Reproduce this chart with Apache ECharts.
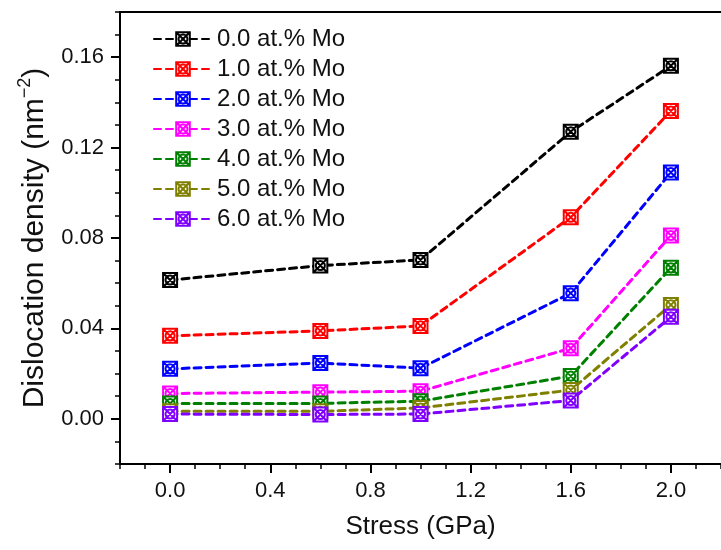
<!DOCTYPE html>
<html>
<head>
<meta charset="utf-8">
<script src="https://cdn.jsdelivr.net/npm/echarts@6/dist/echarts.min.js"></script>
<style>
html,body{margin:0;padding:0;background:#fff;}
#chart{width:721px;height:550px;}
</style>
</head>
<body>
<div id="chart"></div>
<script>
// Stress (GPa)
const stress = [0.0, 0.6, 1.0, 1.6, 2.0];
const seriesNames = ['0.0 at.% Mo', '1.0 at.% Mo', '2.0 at.% Mo', '3.0 at.% Mo', '4.0 at.% Mo', '5.0 at.% Mo', '6.0 at.% Mo'];
// Dislocation density (nm^-2)
const mo0 = [0.0614, 0.0678, 0.0703, 0.1270, 0.1562];
const mo1 = [0.0367, 0.0389, 0.0411, 0.0892, 0.1362];
const mo2 = [0.0221, 0.0247, 0.0224, 0.0556, 0.1090];
const mo3 = [0.0112, 0.0118, 0.0122, 0.0312, 0.0811];
const mo4 = [0.0068, 0.0068, 0.0078, 0.0189, 0.0668];
const mo5 = [0.0033, 0.0033, 0.0048, 0.0127, 0.0504];
const mo6 = [0.0021, 0.0019, 0.0021, 0.0081, 0.0451];
const xTickLabels = [0.0, 0.4, 0.8, 1.2, 1.6, 2.0];
const yTickLabels = [0.00, 0.04, 0.08, 0.12, 0.16];
const colors = ['#000000', '#ff0000', '#0000ff', '#ff00ff', '#008000', '#808000', '#8000ff'];

const allData = [mo0, mo1, mo2, mo3, mo4, mo5, mo6];
const FONT = 'Liberation Sans, Arial, sans-serif';
const markerPath = 'path://M0,0H20V20H0ZM0,0L20,20M20,0L0,20M16.5,10A6.5,6.5,0,1,1,3.5,10A6.5,6.5,0,1,1,16.5,10Z';

const chart = echarts.init(document.getElementById('chart'), null, {renderer: 'canvas'});

const series = allData.map((d, i) => ({
  name: seriesNames[i],
  type: 'line',
  xAxisIndex: 0,
  yAxisIndex: 0,
  data: d.map((v, j) => [stress[j], v]),
  symbol: markerPath,
  symbolSize: 14,
  symbolKeepAspect: true,
  lineStyle: {color: colors[i], width: 3, type: [7, 5], cap: 'round'},
  itemStyle: {color: '#ffffff', borderColor: colors[i], borderWidth: 2},
  emphasis: {disabled: true},
  animation: false,
  z: 2 + i
}));

const xMin = -0.2, xMax = 2.2, yMin = -0.02, yMax = 0.18;

const option = {
  animation: false,
  textStyle: {fontFamily: FONT},
  grid: {left: 120, top: 12, right: 0, bottom: 86, containLabel: false},
  legend: {
    orient: 'vertical',
    left: 148,
    top: 22,
    itemWidth: 58,
    itemHeight: 17,
    itemGap: 6,
    textStyle: {fontFamily: FONT, fontSize: 24, color: '#111', lineHeight: 24},
    data: seriesNames
  },
  xAxis: [
    {
      type: 'value', min: xMin, max: xMax, position: 'bottom',
      name: 'Stress (GPa)', nameLocation: 'middle', nameGap: 50,
      nameTextStyle: {fontFamily: FONT, fontSize: 26, color: '#111'},
      axisLine: {show: true, onZero: false, lineStyle: {color: '#000', width: 2}},
      axisTick: {show: true, customValues: xTickLabels, length: 9, inside: false, lineStyle: {color: '#000', width: 2}},
      axisLabel: {show: true, customValues: xTickLabels, margin: 16, fontFamily: FONT, fontSize: 22, color: '#111', formatter: v => v.toFixed(1)},
      splitLine: {show: false}
    },
    {
      type: 'value', min: xMin, max: xMax, interval: 0.1, position: 'bottom',
      axisLine: {show: false, onZero: false},
      axisTick: {show: true, length: 5, lineStyle: {color: '#000', width: 1.5}},
      axisLabel: {show: false},
      splitLine: {show: false}
    },
    {
      type: 'value', min: xMin, max: xMax, position: 'top',
      axisLine: {show: true, onZero: false, lineStyle: {color: '#000', width: 2}},
      axisTick: {show: false}, axisLabel: {show: false}, splitLine: {show: false}
    }
  ],
  yAxis: [
    {
      type: 'value', min: yMin, max: yMax, position: 'left',
      name: '{a|Dislocation density (nm}{s|\u22122}{a|)}', nameLocation: 'middle', nameGap: 70, nameRotate: 90,
      nameTextStyle: {
        fontFamily: FONT, fontSize: 30, color: '#111',
        rich: {
          a: {fontFamily: FONT, fontSize: 30, color: '#111', lineHeight: 34, verticalAlign: 'bottom'},
          s: {fontFamily: FONT, fontSize: 18, color: '#111', lineHeight: 34, verticalAlign: 'top', padding: [0, 0, 15, 0]}
        }
      },
      axisLine: {show: true, onZero: false, lineStyle: {color: '#000', width: 2}},
      axisTick: {show: true, customValues: yTickLabels, length: 9, inside: false, lineStyle: {color: '#000', width: 2}},
      axisLabel: {show: true, customValues: yTickLabels, margin: 16, fontFamily: FONT, fontSize: 22, color: '#111', formatter: v => v.toFixed(2)},
      splitLine: {show: false}
    },
    {
      type: 'value', min: yMin, max: yMax, interval: 0.01, position: 'left',
      axisLine: {show: false, onZero: false},
      axisTick: {show: true, length: 5, lineStyle: {color: '#000', width: 1.5}},
      axisLabel: {show: false},
      splitLine: {show: false}
    }
  ],
  series: series
};
chart.setOption(option);
</script>
</body>
</html>
